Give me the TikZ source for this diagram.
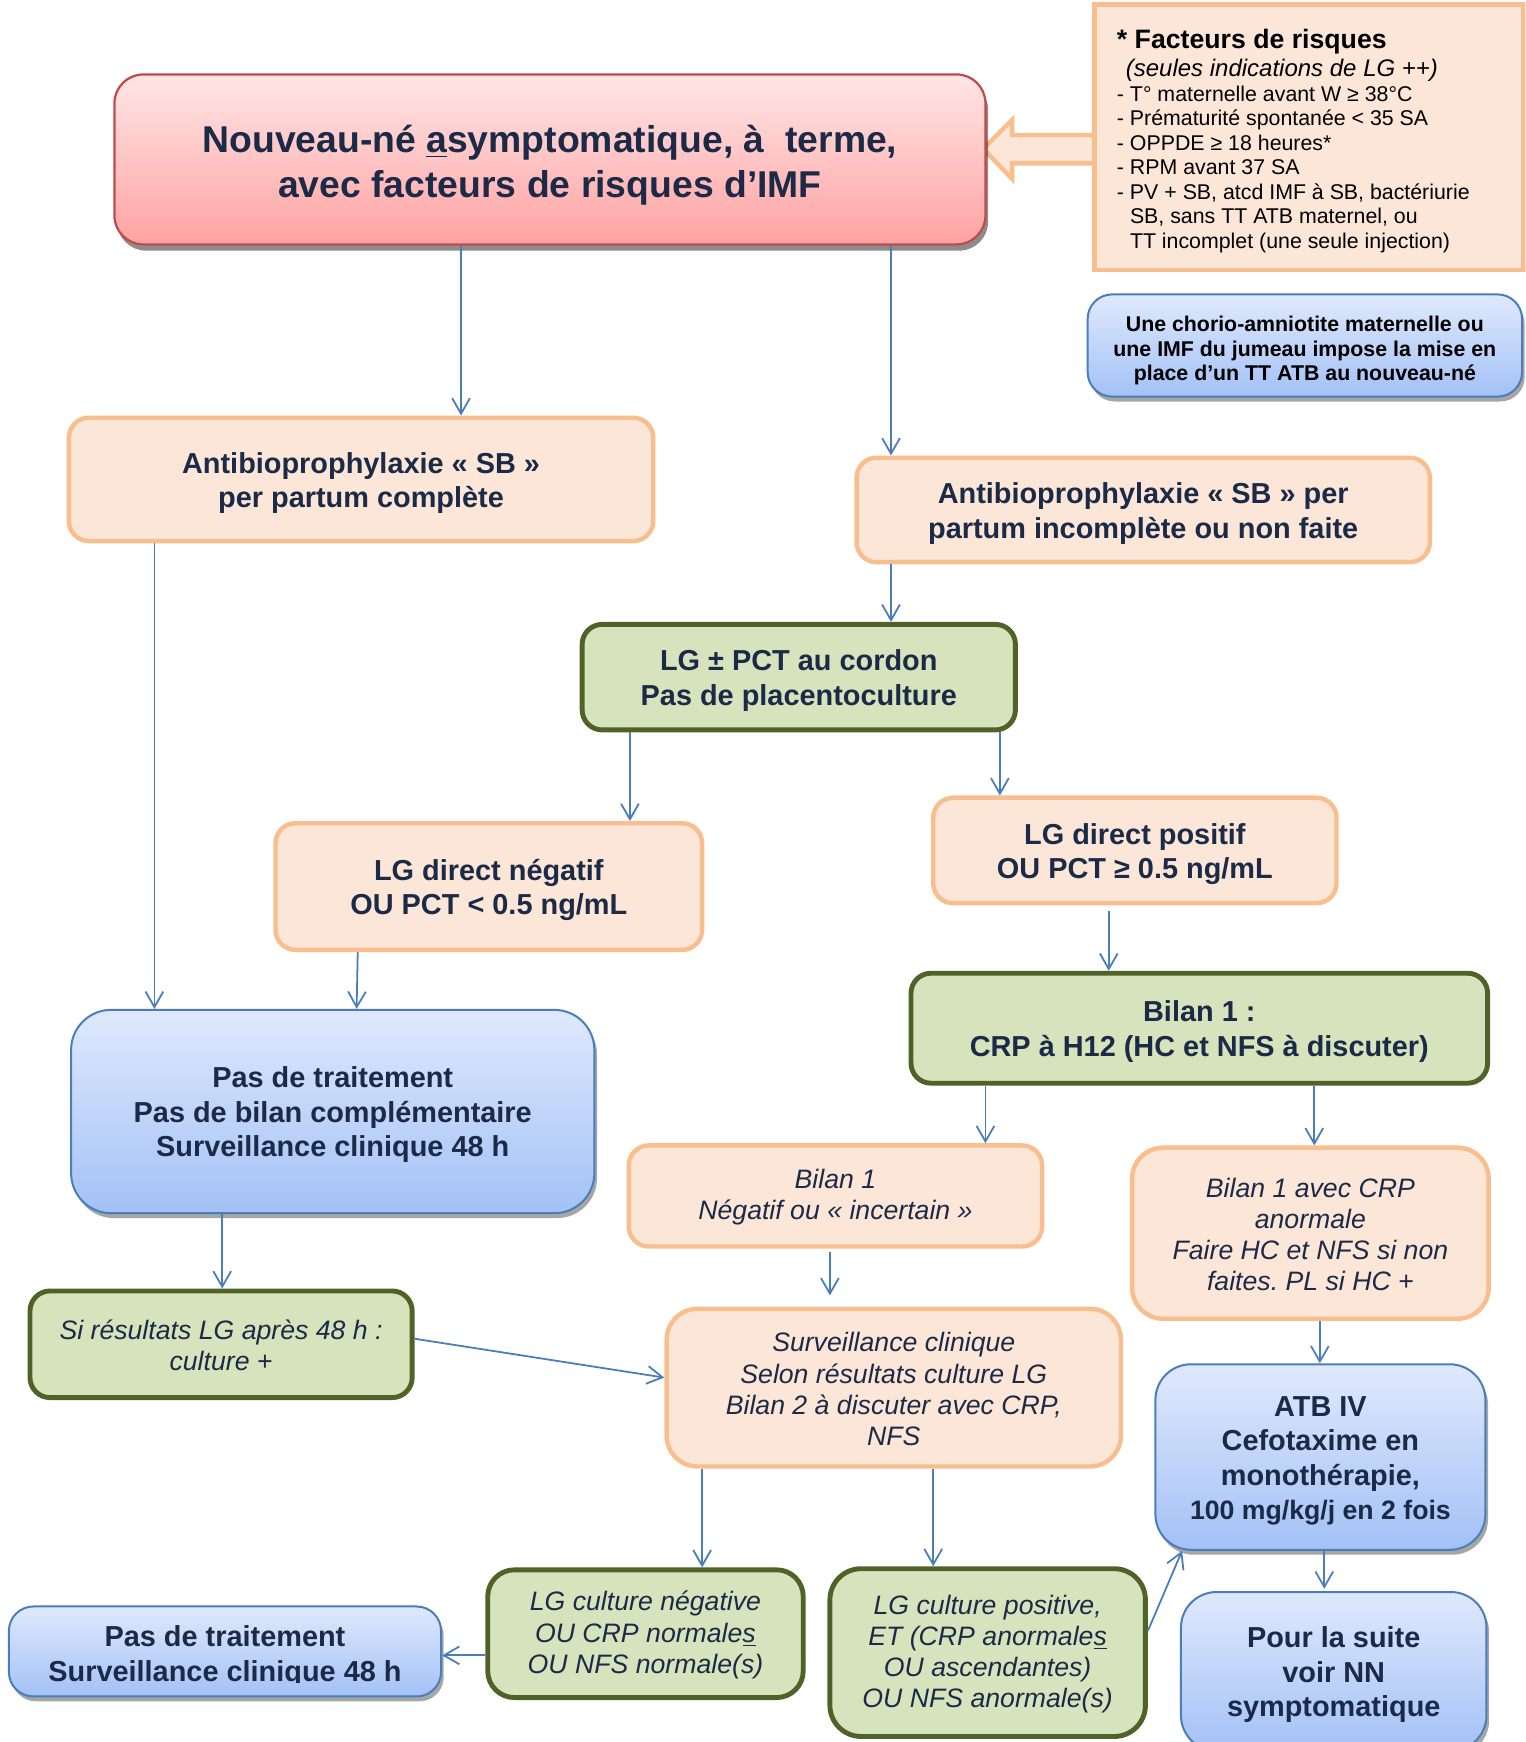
\documentclass[tikz,border=0pt]{standalone}
\usepackage{fontspec}
\setmainfont{Liberation Sans}
\frenchspacing
\usetikzlibrary{arrows.meta,shadows,calc}

\definecolor{navy}{HTML}{1B2A47}
\definecolor{peachfill}{HTML}{FCE6D8}
\definecolor{peachline}{HTML}{F9BE8E}
\definecolor{greenfill}{HTML}{D7E3BC}
\definecolor{greenline}{HTML}{4F6228}
\definecolor{bluetop}{HTML}{DFE9FC}
\definecolor{bluebot}{HTML}{A3C1F6}
\definecolor{blueline}{HTML}{4A7EBB}
\definecolor{redtop}{HTML}{FFE6E6}
\definecolor{redbot}{HTML}{FFA2A2}
\definecolor{redline}{HTML}{BE4B48}
\definecolor{arrowblue}{HTML}{4A7EBB}

% invisible strut that makes a first line taller
\newcommand{\tallfirst}[1]{\rule{0pt}{#1}}
\newcommand{\Sb}{\tallfirst{12.5pt}}
\newcommand{\Si}{\tallfirst{10pt}}

\tikzset{
  % a box given by its corners x1,y1,x2,y2 (one unit = 0.5pt, y downwards)
  area/.style args={#1,#2,#3,#4}{minimum width={(#3-#1)*0.5pt}, minimum height={(#4-#2)*0.5pt},
    at={({(#1+#3)/2},{(#2+#4)/2})}},
  base/.style={inner sep=0pt, align=center, text=navy, anchor=center},
  peachbox/.style={base, draw=peachline, fill=peachfill, line width=2pt, rounded corners=9pt},
  greenbox/.style={base, draw=greenline, fill=greenfill, line width=2.2pt, rounded corners=9pt},
  bluebox/.style={base, draw=blueline, line width=0.9pt, top color=bluetop, bottom color=bluebot,
    rounded corners=14pt,
    drop shadow={shadow xshift=1.2pt, shadow yshift=-2.2pt, fill=black, opacity=0.35}},
  redbox/.style={base, draw=redline, line width=1pt, top color=redtop, bottom color=redbot,
    rounded corners=13pt,
    drop shadow={shadow xshift=1.2pt, shadow yshift=-2.8pt, fill=black, opacity=0.45}},
  boldtxt/.style={font=\fontsize{13}{15.5}\selectfont\bfseries},
  itxt/.style={font=\fontsize{12}{14}\selectfont\itshape},
  arr/.style={draw=arrowblue, line width=0.8pt, -{Straight Barb[length=7pt,width=8pt]}},
}

\begin{document}
\begin{tikzpicture}[x=0.5pt,y=-0.5pt]
\useasboundingbox (0,0) rectangle (1373,1568);
\clip (0,0) rectangle (1373,1568);

% risk factors panel and its block arrow
\draw[draw=peachline, fill=peachfill, line width=2pt, line join=miter]
  (885,134) -- (911,108) -- (911,121.5) -- (990,121.5) -- (990,147) -- (911,147) -- (911,161) -- cycle;
\node[area={985,4,1371,243}, draw=peachline, fill=peachfill, line width=2.2pt, inner sep=0pt] (fr) {};
\node[anchor=base west, inner sep=0pt, font=\fontsize{12}{14}\selectfont\bfseries] (frt) at (1005,43.5) {* Facteurs de risques};
\node[anchor=base west, inner sep=0pt, font=\fontsize{10.8}{13}\selectfont\itshape] (frs) at (1013,68.5) {(seules indications de LG ++)};
\node[anchor=north west, inner sep=0pt, align=left, font=\fontsize{9.6}{11}\selectfont] (frl) at (1005,77) {%
- T° maternelle avant W ≥ 38°C\\
- Prématurité spontanée < 35 SA\\
- OPPDE ≥ 18 heures*\\
- RPM avant 37 SA\\
- PV + SB, atcd IMF à SB, bactériurie\\
\phantom{- }SB, sans TT ATB maternel, ou\\
\phantom{- }TT incomplet (une seule injection)};

% boxes
\node[redbox, area={103,67,887,220}, font=\fontsize{16.8}{20}\selectfont\bfseries] (main)
  {\tallfirst{17.5pt}Nouveau-né \underline{a}symptomatique, à\ \ terme,\\avec facteurs de risques d’IMF};

\node[bluebox, area={979,265,1370,357}, text=black, rounded corners=11pt,
  font=\fontsize{9.6}{11.2}\selectfont\bfseries] (chorio)
  {\tallfirst{11.5pt}Une chorio-amniotite maternelle ou\\une IMF du jumeau impose la mise en\\place d’un TT ATB au nouveau-né};

\node[peachbox, boldtxt, area={62,376,588,487}] (sbc)
  {\Sb Antibioprophylaxie « SB »\\per partum complète};
\node[peachbox, boldtxt, area={771,412,1287,506}] (sbi)
  {\Sb Antibioprophylaxie « SB » per\\partum incomplète ou non faite};
\node[greenbox, boldtxt, area={524,562,914,657}] (lg)
  {\Sb LG ± PCT au cordon\\Pas de placentoculture};
\node[peachbox, boldtxt, area={248,741,632,855}] (neg)
  {\Sb LG direct négatif\\OU PCT < 0.5 ng/mL};
\node[peachbox, boldtxt, area={840,718,1203,813}] (pos)
  {\Sb LG direct positif\\OU PCT ≥ 0.5 ng/mL};
\node[greenbox, boldtxt, area={820,876,1339,975}] (bil)
  {\Sb Bilan 1 :\\CRP à H12 (HC et NFS à discuter)};
\node[bluebox, boldtxt, area={64,909,535,1092}, rounded corners=18pt] (ptb)
  {\Sb Pas de traitement\\Pas de bilan complémentaire\\Surveillance clinique 48 h};
\node[peachbox, itxt, area={566,1031,938,1122}] (bneg)
  {\Si Bilan 1\\Négatif ou « incertain »};
\node[peachbox, itxt, area={1019,1033,1340,1187}, rounded corners=14pt] (bano)
  {\Si Bilan 1 avec CRP\\anormale\\Faire HC et NFS si non\\faites. PL si HC +};
\node[greenbox, itxt, area={27,1162,371,1258}] (si)
  {\Si Si résultats LG après 48 h :\\culture +};
\node[peachbox, itxt, area={600,1178,1009,1320}, rounded corners=14pt] (surv)
  {\Si Surveillance clinique\\Selon résultats culture LG\\Bilan 2 à discuter avec CRP,\\NFS};
\node[bluebox, boldtxt, area={1040,1228,1337,1395}, rounded corners=16pt] (atb)
  {\Sb ATB IV\\Cefotaxime en\\monothérapie,\\{\fontsize{12}{15.5}\selectfont 100 mg/kg/j en 2 fois}};
\node[greenbox, itxt, area={439,1413,723,1528}, rounded corners=12pt] (cneg)
  {\Si LG culture négative\\OU CRP normale\underline{s}\\OU NFS normale(s)};
\node[greenbox, itxt, area={747,1412,1031,1563}, rounded corners=14pt] (cpos)
  {\Si LG culture positive,\\ET (CRP anormale\underline{s}\\OU ascendantes)\\OU NFS anormale(s)};
\node[bluebox, area={8,1446,397,1527}, rounded corners=11pt] (pt2) {};
\begin{scope}
  \clip (0,1440) rectangle (400,1514);
  \node[base, boldtxt] (pt2t) at (202.5,1491) {Pas de traitement\\Surveillance clinique 48 h};
\end{scope}
\node[bluebox, boldtxt, area={1063,1433,1338,1576}, rounded corners=16pt] (suite)
  {\Sb Pour la suite\\voir NN\\symptomatique};

% connectors
\draw[arr] ($(main.south)+(-80,0)$) -- ($(sbc.north)+(90,0)$);
\draw[arr] ($(main.south)+(307,0)$) -- ($(sbi.north)+(-227,0)$);
\draw[arr] ($(sbc.south)+(-186,0)$) -- ($(ptb.north)+(-160.5,0)$);
\draw[arr] ($(sbi.south)+(-227,0)$) -- ($(lg.north)+(83,0)$);
\draw[arr] ($(lg.south)+(-152,0)$) -- ($(neg.north)+(127,0)$);
\draw[arr] ($(lg.south)+(181,0)$) -- ($(pos.north)+(-121.5,0)$);
\draw[arr] ($(neg.south)+(-118,0)$) -- ($(ptb.north)+(21.5,0)$);
\draw[arr] ($(pos.south)+(-23.5,5)$) -- ($(bil.north)+(-81.5,0)$);
\draw[arr] ($(bil.south)+(-192.5,0)$) -- ($(bneg.north)+(135,0)$);
\draw[arr] ($(bil.south)+(103.5,0)$) -- ($(bano.north)+(3.5,0)$);
\draw[arr] ($(ptb.south)+(-99.5,0)$) -- ($(si.north)+(1,0)$);
\draw[arr] ($(si.east)+(0,-5)$) -- ($(surv.west)+(0,-9)$);
\draw[arr] ($(bneg.south)+(-5,3)$) -- ($(surv.north)+(-57.5,-10)$);
\draw[arr] ($(bano.south)+(8.5,0)$) -- ($(atb.north)+(-0.5,0)$);
\draw[arr] ($(surv.south)+(-172.5,0)$) -- ($(cneg.north)+(51,0)$);
\draw[arr] ($(surv.south)+(35.5,0)$) -- ($(cpos.north)+(-49,0)$);
\draw[arr] ($(cneg.west)+(0,19.5)$) -- ($(pt2.east)+(0,3.5)$);
\draw[arr] ($(cpos.east)+(0,-19.5)$) -- ($(atb.south)+(-124.5,0)$);
\draw[arr] ($(atb.south)+(3.5,0)$) -- ($(suite.north)+(-8.5,-2)$);
\end{tikzpicture}
\end{document}
